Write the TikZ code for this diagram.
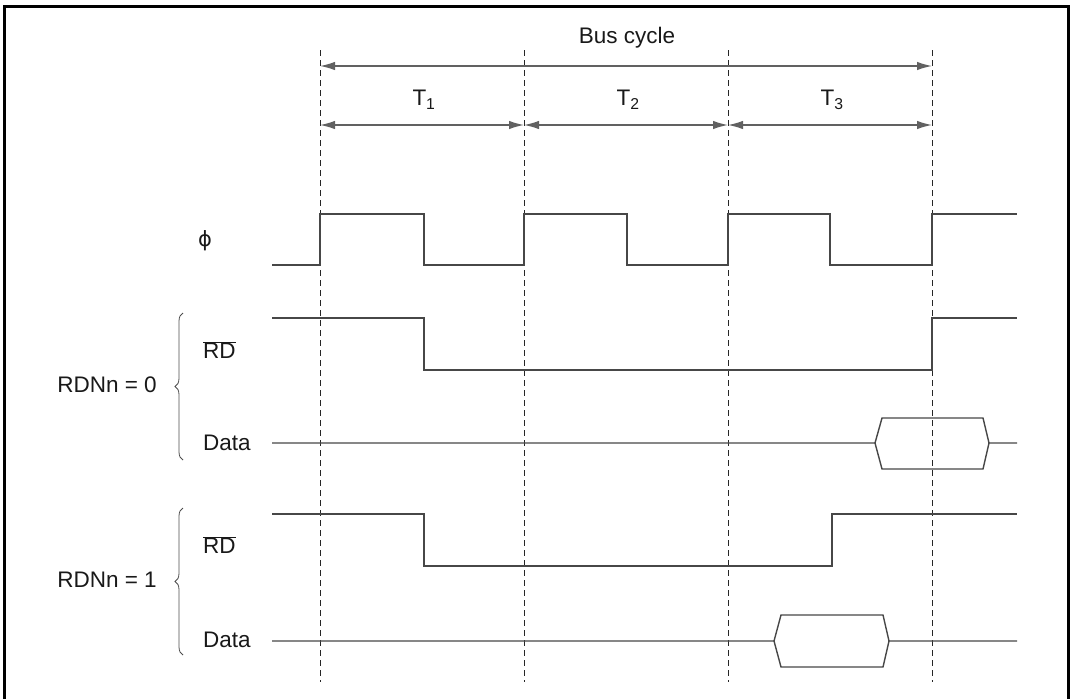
\documentclass[tikz,border=0pt]{standalone}
\usepackage{fontspec}
\setmainfont{Liberation Sans}
\newfontfamily\greekfont{DejaVu Sans}
\usetikzlibrary{arrows.meta,decorations.pathreplacing}

\tikzset{
  sig/.style={draw=black!72, line width=1.4pt},
  tick/.style={draw=black!85, line width=0.8pt, dash pattern=on 6pt off 4pt},
  span/.style={<->, draw=black!62, line width=1.4pt},
  grp/.style={draw=black!70, line width=0.8pt,
    decorate, decoration={brace, amplitude=8pt, aspect=0.5}},
  lbl/.style={text=black!90, inner sep=0pt}
}

\begin{document}
\begin{tikzpicture}[x=1pt, y=-1pt, >={Latex[length=15pt,width=8.5pt]},
    every node/.style={font=\fontsize{22.5}{26}\selectfont}]
  \useasboundingbox (0,0) rectangle (1073,699);
  \draw[line width=3pt] (4,699) -- (4,6) -- (1068,6) -- (1068,699);

  % state boundaries
  \foreach \x [count=\i] in {320,524,728,932} {
    \coordinate (top\i) at (\x,50);
    \coordinate (bot\i) at (\x,682);
    \coordinate (cyc\i) at (\x,66);
    \coordinate (st\i) at (\x,125);
    \draw[tick] (top\i) -- (bot\i);
  }

  \node[lbl] (buscyc) at (627,38) {Bus cycle};
  \draw[span] (cyc1) -- (cyc4);
  \node[lbl] (tone) at (424,100) {T\textsubscript{1}};
  \node[lbl] (ttwo) at (628,100) {T\textsubscript{2}};
  \node[lbl] (tthree) at (832,100) {T\textsubscript{3}};
  \draw[span] (st1) -- (st2);
  \draw[span] (st2) -- (st3);
  \draw[span] (st3) -- (st4);

  % clock
  \node[lbl] (phi) at (205,241) {\greekfont\fontsize{21}{24}\selectfont ϕ};
  \draw[sig] (272,265) -- (320,265) -- (320,214) -- (424,214) -- (424,265)
    -- (524,265) -- (524,214) -- (627,214) -- (627,265) -- (728,265)
    -- (728,214) -- (830,214) -- (830,265) -- (932,265) -- (932,214) -- (1017,214);

  % RDNn = 0
  \node[lbl] (rdnzero) at (107,385) {RDNn = 0};
  \draw[grp] (183,460) -- (183,313);
  \node[lbl, anchor=west] (rdzero) at (203,350) {$\overline{\mbox{RD}}$};
  \node[lbl, anchor=west] (datzero) at (203,443) {Data};
  \draw[sig] (272,318) -- (424,318) -- (424,370) -- (932,370) -- (932,318) -- (1017,318);
  \draw[sig] (272,443) -- (875,443) -- (882,418) -- (983,418) -- (989,443) -- (1017,443);
  \draw[sig] (875,443) -- (882,469) -- (983,469) -- (989,443);

  % RDNn = 1
  \node[lbl] (rdnone) at (107,580) {RDNn = 1};
  \draw[grp] (183,655) -- (183,508);
  \node[lbl, anchor=west] (rdone) at (203,545) {$\overline{\mbox{RD}}$};
  \node[lbl, anchor=west] (datone) at (203,640) {Data};
  \draw[sig] (272,514) -- (424,514) -- (424,566) -- (832,566) -- (832,514) -- (1017,514);
  \draw[sig] (272,641) -- (774,641) -- (781,615) -- (883,615) -- (889,641) -- (1017,641);
  \draw[sig] (774,641) -- (781,667) -- (883,667) -- (889,641);
\end{tikzpicture}
\end{document}
